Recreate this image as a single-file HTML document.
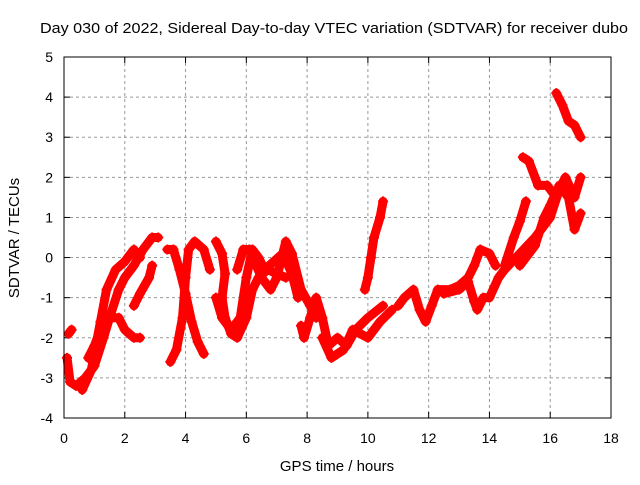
<!DOCTYPE html>
<html><head><meta charset="utf-8"><style>
body{margin:0;background:#fff}
svg text{font-family:"Liberation Sans",sans-serif;font-size:14px;fill:#000}
</style></head><body>
<svg id="chart" width="640" height="480">
<rect width="640" height="480" fill="#fff"/>
<g id="grid"></g>
<g id="ticks"></g>
<g id="series"></g>
<rect x="64" y="57" width="547" height="361" fill="none" stroke="#000" stroke-width="1"/>
<text x="334" y="33" text-anchor="middle" textLength="588" lengthAdjust="spacingAndGlyphs" style="font-size:15px">Day 030 of 2022, Sidereal Day-to-day VTEC variation (SDTVAR) for receiver dubo</text>
<text x="337" y="471" text-anchor="middle" style="font-size:15px">GPS time / hours</text>
<text transform="translate(19,238) rotate(-90)" text-anchor="middle" style="font-size:15px">SDTVAR / TECUs</text>
</svg>
<script>
const xTicks=[0,2,4,6,8,10,12,14,16,18];
const yTicks=[-4,-3,-2,-1,0,1,2,3,4,5];
const tracks=[
[[0.1,-2.5],[0.2,-3.1],[0.4,-3.2],[0.7,-3.0],[1.0,-2.7],[1.3,-2.0],[1.5,-1.5],[1.8,-0.8],[2.0,-0.5],[2.3,-0.2],[2.6,0.2],[2.9,0.5],[3.1,0.5]],
[[0.6,-3.3],[0.9,-2.8],[1.2,-1.6],[1.4,-0.8],[1.7,-0.3],[2.0,-0.1],[2.3,0.2],[2.5,0.0]],
[[0.15,-1.9],[0.25,-1.8]],
[[0.8,-2.5],[1.0,-2.2],[1.2,-1.8],[1.5,-1.5],[1.8,-1.5],[2.0,-1.8],[2.3,-2.0],[2.5,-2.0]],
[[2.3,-1.2],[2.5,-0.9],[2.8,-0.5],[2.9,-0.2]],
[[3.4,0.2],[3.6,0.2],[3.8,-0.3],[4.0,-0.9],[4.2,-1.6],[4.4,-2.1],[4.6,-2.4]],
[[3.5,-2.6],[3.7,-2.3],[3.9,-1.5],[4.0,-0.5],[4.1,0.2],[4.3,0.4],[4.6,0.2],[4.8,-0.3]],
[[5.0,0.4],[5.2,0.1],[5.3,-0.4],[5.2,-1.0],[5.3,-1.5],[5.5,-1.9],[5.7,-2.0],[6.0,-1.5],[6.2,-0.8],[6.4,-0.5],[6.7,-0.3],[7.0,-0.4],[7.3,-0.5]],
[[5.0,-1.0],[5.2,-1.5],[5.5,-1.8],[5.8,-1.5],[6.0,-0.5],[6.2,0.2],[6.4,0.0],[6.6,-0.3],[6.9,-0.1],[7.2,0.1],[7.5,-0.4],[7.7,-1.0]],
[[5.7,-0.3],[5.9,0.2],[6.1,0.2],[6.5,-0.5],[6.8,-0.8],[7.0,-0.5],[7.3,0.4],[7.5,0.1],[7.8,-0.8],[8.1,-1.2],[8.3,-1.5]],
[[7.8,-1.7],[7.9,-2.0],[8.1,-1.5],[8.3,-1.0],[8.5,-1.5],[8.7,-2.2],[9.0,-2.0],[9.3,-2.2],[9.6,-1.8],[10.0,-1.5],[10.5,-1.2]],
[[8.5,-2.0],[8.8,-2.5],[9.2,-2.3],[9.5,-1.8],[10.0,-2.0],[10.4,-1.6],[10.8,-1.3]],
[[9.9,-0.8],[10.0,-0.5],[10.1,0.0],[10.2,0.5],[10.4,1.0],[10.5,1.4]],
[[11.0,-1.2],[11.2,-1.0],[11.5,-0.8],[11.7,-1.3],[11.9,-1.6],[12.1,-1.2],[12.3,-0.8],[12.7,-0.8],[13.0,-0.7],[13.3,-0.5],[13.5,-0.2],[13.7,0.2],[14.0,0.1],[14.2,-0.2]],
[[12.5,-0.9],[13.0,-0.8],[13.3,-0.6],[13.5,-1.1],[13.6,-1.3],[13.8,-1.0],[14.0,-1.0],[14.3,-0.5],[14.5,-0.3]],
[[14.5,-0.2],[14.8,0.5],[15.0,0.9],[15.2,1.4]],
[[14.5,-0.3],[15.0,0.1],[15.5,0.5],[16.0,1.0],[16.3,1.7],[16.5,2.0],[16.8,1.5],[17.0,2.0]],
[[15.0,-0.2],[15.5,0.3],[15.8,1.0],[16.0,1.3],[16.3,1.8],[16.6,1.5],[16.8,0.7],[17.0,1.1]],
[[15.1,2.5],[15.3,2.4],[15.6,1.8],[15.9,1.8],[16.2,1.5]],
[[16.2,4.1],[16.4,3.8],[16.6,3.4],[16.8,3.3],[17.0,3.0]]
];
const NS='http://www.w3.org/2000/svg';
const X0=64,X1=611,Y0=418,Y1=57;
const sx=h=>X0+(h-0)/(18-0)*(X1-X0);
const sy=v=>Y0-(v+4)/(5+4)*(Y0-Y1);
function mk(tag,attrs,parent){const e=document.createElementNS(NS,tag);for(const k in attrs)e.setAttribute(k,attrs[k]);parent.appendChild(e);return e;}
const grid=document.getElementById('grid'),ticks=document.getElementById('ticks'),ser=document.getElementById('series');
xTicks.forEach(t=>{const x=sx(t);
 if(t>0&&t<18){const l=mk('line',{x1:x,x2:x,y1:Y1,y2:Y0,stroke:'#999','stroke-dasharray':'3,3'},grid);
 
 }
 mk('line',{x1:x,x2:x,y1:Y0,y2:Y0-6,stroke:'#000'},ticks);mk('line',{x1:x,x2:x,y1:Y1,y2:Y1+6,stroke:'#000'},ticks);
 const tx=mk('text',{x:x,y:443,'text-anchor':'middle'},ticks);tx.textContent=t;
 
 
});
yTicks.forEach(t=>{const y=sy(t);
 if(t>-4&&t<5){const l=mk('line',{x1:X0,x2:X1,y1:y,y2:y,stroke:'#999','stroke-dasharray':'3,3'},grid);
 
 }
 mk('line',{x1:X0,x2:X0+6,y1:y,y2:y,stroke:'#000'},ticks);mk('line',{x1:X1,x2:X1-6,y1:y,y2:y,stroke:'#000'},ticks);
 const tx=mk('text',{x:53,y:y+5,'text-anchor':'end'},ticks);tx.textContent=t;
 
 
});
tracks.forEach(tr=>{
 const pts=tr.map(p=>sx(p[0])+','+sy(p[1])).join(' ');
 const pl=mk('polyline',{points:pts,fill:'none',stroke:'#f00','stroke-width':9,'stroke-linejoin':'round','stroke-linecap':'round'},ser);
 
 
 tr.forEach(p=>{const x=sx(p[0]),y=sy(p[1]);
  const m=mk('path',{d:`M${x-5},${y}H${x+5}M${x},${y-5}V${y+5}`,stroke:'#f00','stroke-width':2},ser);
  
  
 });
});
</script>
</body></html>
